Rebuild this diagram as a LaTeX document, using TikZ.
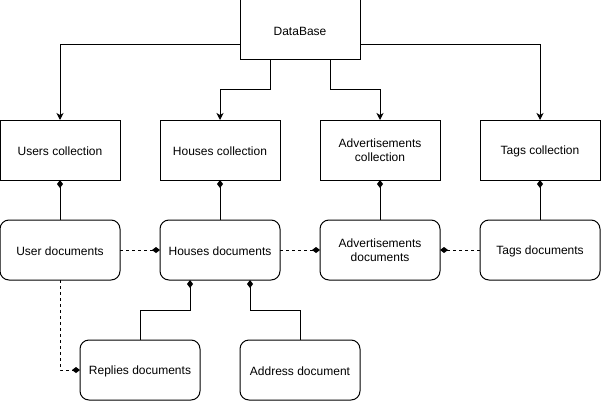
\documentclass[tikz,border=0pt]{standalone}
\usepackage{fontspec}
\setmainfont{Liberation Sans}
\usetikzlibrary{arrows.meta}
\begin{document}
\begin{tikzpicture}[x=1pt,y=-1pt,
  box/.style={draw,line width=1pt,minimum width=120pt,minimum height=60pt,outer sep=0pt,inner sep=2pt,align=center,font=\fontsize{12}{14}\selectfont,execute at begin node={\rule{0pt}{11pt}}},
  doc/.style={box,rounded corners=9pt},
  arr/.style={line width=1pt,-{Stealth[length=7pt,width=7pt,inset=2pt]}},
  comp/.style={line width=1pt,-{Diamond[length=8pt,width=6pt]}},
  dsh/.style={dash pattern=on 3pt off 3pt}]
\useasboundingbox (0,0) rectangle (601,401);
\node[box] (db) at (300,30) {DataBase};
\node[box] (uc) at (60,150) {Users collection};
\node[box] (hc) at (220,150) {Houses collection};
\node[box] (ac) at (380,150) {Advertisements\\collection};
\node[box] (tc) at (540,150) {Tags collection};
\node[doc] (ud) at (60,250) {User documents};
\node[doc] (hd) at (220,250) {Houses documents};
\node[doc] (ad) at (380,250) {Advertisements\\documents};
\node[doc] (td) at (540,250) {Tags documents};
\node[doc] (rd) at (140,370) {Replies documents};
\node[doc] (addr) at (300,370) {Address document};
\draw[arr] ([yshift=-15pt]db.west) -| (uc.north);
\draw[arr] ([yshift=-15pt]db.east) -| (tc.north);
\draw[arr] ([xshift=-30pt]db.south) -- ++(0,30) -| (hc.north);
\draw[arr] ([xshift=30pt]db.south) -- ++(0,30) -| (ac.north);
\draw[comp] (ud.north) -- (uc.south);
\draw[comp] (hd.north) -- (hc.south);
\draw[comp] (ad.north) -- (ac.south);
\draw[comp] (td.north) -- (tc.south);
\draw[comp,dsh] (ud.east) -- (hd.west);
\draw[comp,dsh] (hd.east) -- (ad.west);
\draw[comp,dsh] (td.west) -- (ad.east);
\draw[comp,dsh] (ud.south) |- (rd.west);
\draw[comp] (rd.north) -- ++(0,-30) -| ([xshift=-30pt]hd.south);
\draw[comp] (addr.north) -- ++(0,-30) -| ([xshift=30pt]hd.south);
\end{tikzpicture}
\end{document}
